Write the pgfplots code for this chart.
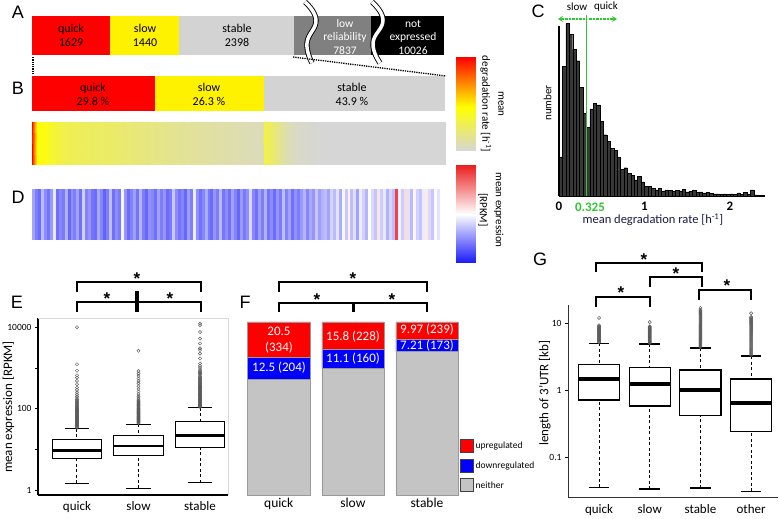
\documentclass[border=0pt]{standalone}
\usepackage{pgfplots}
\pgfplotsset{compat=1.18}
\usepgfplotslibrary{statistics}
\usetikzlibrary{arrows.meta}
\usepackage{fontspec}
\setmainfont{Carlito}
\newfontfamily\letterfont{Liberation Sans}
\definecolor{lgray}{RGB}{211,211,211}
\definecolor{dgray}{RGB}{128,128,128}
\definecolor{fgray}{RGB}{196,196,196}
\definecolor{cgreen}{RGB}{45,200,45}
\definecolor{navy}{RGB}{25,25,70}
\newcommand{\fs}[1]{\fontsize{#1}{#1}\selectfont}
\newcommand{\st}{\letterfont\bfseries\fontsize{17}{17}\selectfont}
\pgfplotsset{
  colormap={degr}{rgb255(0cm)=(214,214,214); rgb255(47cm)=(255,255,0); rgb255(69cm)=(255,150,0); rgb255(100cm)=(255,0,0)},
  colormap={expr}{rgb255(0cm)=(25,25,250); rgb255(1cm)=(255,255,255); rgb255(2cm)=(235,30,30)},
  heat/.style={anchor=south west, scale only axis, hide axis, view={0}{90}, clip=false, zmin=-1, zmax=1},
  sqlegend/.style={legend image code/.code={\draw[##1, draw=black!75, line width=0.6pt] (0pt,-6pt) rectangle (13pt,7pt);}},
  mybox/.style={
    boxplot/draw direction=y,
    boxplot/box extend=0.81,
    boxplot/every box/.style={draw=black, line width=1.1pt, fill=white},
    boxplot/every median/.style={draw=black, line width=2.8pt},
    boxplot/draw/lower whisker/.code={
      \draw[line width=1pt, dash pattern=on 3pt off 2.5pt]
        (boxplot box cs:\pgfplotsboxplotvalue{lower whisker},0.5) --
        (boxplot box cs:\pgfplotsboxplotvalue{lower quartile},0.5);
      \draw[line width=1.1pt]
        (boxplot box cs:\pgfplotsboxplotvalue{lower whisker},0.25) --
        (boxplot box cs:\pgfplotsboxplotvalue{lower whisker},0.75);},
    boxplot/draw/upper whisker/.code={
      \draw[line width=1pt, dash pattern=on 3pt off 2.5pt]
        (boxplot box cs:\pgfplotsboxplotvalue{upper whisker},0.5) --
        (boxplot box cs:\pgfplotsboxplotvalue{upper quartile},0.5);
      \draw[line width=1.1pt]
        (boxplot box cs:\pgfplotsboxplotvalue{upper whisker},0.25) --
        (boxplot box cs:\pgfplotsboxplotvalue{upper whisker},0.75);},
  },
  outl/.style={black, solid, mark=o, mark size=1.6pt, mark options={draw=black!65, line width=0.45pt}},
}
\begin{document}
\begin{tikzpicture}
\useasboundingbox (0,0) rectangle (779pt,519pt);

% ---------------- A
\begin{axis}[at={(32pt,464pt)}, anchor=south west, scale only axis, width=412pt, height=39pt,
  hide axis, xbar stacked, bar width=1, xmin=0, xmax=8599, ymin=0.5, ymax=1.5]
\addplot[fill=red, draw=none] coordinates {(1629,1)};
\addplot[fill=yellow, draw=none] coordinates {(1440,1)};
\addplot[fill=lgray, draw=none] coordinates {(2398,1)};
\addplot[fill=dgray, draw=none] coordinates {(1608,1)};
\addplot[fill=black, draw=none] coordinates {(1524,1)};
\end{axis}

% ---------------- B
\begin{axis}[at={(32pt,408pt)}, anchor=south west, scale only axis, width=413pt, height=35pt,
  hide axis, xbar stacked, bar width=1, xmin=0, xmax=100, ymin=0.5, ymax=1.5]
\addplot[fill=red, draw=none] coordinates {(29.8,1)};
\addplot[fill=yellow, draw=none] coordinates {(26.3,1)};
\addplot[fill=lgray, draw=none] coordinates {(43.9,1)};
\end{axis}

% ---------------- degradation heatmap
\begin{axis}[heat, at={(32pt,354pt)}, width=413pt, height=43pt, xmin=0, xmax=413, ymin=0, ymax=1,
  colormap name=degr, point meta min=0, point meta max=1]
\addplot3[surf, shader=interp, mesh/rows=2, point meta=explicit] table[row sep=\\, meta=c] {
x y z c\\
0 0 0 1.0\\ 1.5 0 0 0.85\\ 3 0 0 0.65\\ 5 0 0 0.47\\ 8 0 0 0.44\\ 14 0 0 0.42\\ 22 0 0 0.35\\ 35 0 0 0.29\\
55 0 0 0.26\\ 80 0 0 0.24\\ 100 0 0 0.21\\ 120 0 0 0.18\\ 150 0 0 0.14\\ 180 0 0 0.11\\ 210 0 0 0.08\\
231 0 0 0.06\\ 232 0 0 0.32\\ 240 0 0 0.24\\ 250 0 0 0.12\\ 262 0 0 0.04\\ 280 0 0 0.01\\ 300 0 0 0\\ 413 0 0 0\\
0 1 0 1.0\\ 1.5 1 0 0.85\\ 3 1 0 0.65\\ 5 1 0 0.47\\ 8 1 0 0.44\\ 14 1 0 0.42\\ 22 1 0 0.35\\ 35 1 0 0.29\\
55 1 0 0.26\\ 80 1 0 0.24\\ 100 1 0 0.21\\ 120 1 0 0.18\\ 150 1 0 0.14\\ 180 1 0 0.11\\ 210 1 0 0.08\\
231 1 0 0.06\\ 232 1 0 0.32\\ 240 1 0 0.24\\ 250 1 0 0.12\\ 262 1 0 0.04\\ 280 1 0 0.01\\ 300 1 0 0\\ 413 1 0 0\\
};
\end{axis}

% ---------------- D expression heatmap
\begin{axis}[heat, at={(32pt,280pt)}, width=411pt, height=50pt, xmin=0, xmax=138, ymin=0, ymax=1,
  colormap name=expr, point meta min=0, point meta max=1]
\addplot3[surf, shader=flat corner, mesh/rows=2, point meta=explicit] table[row sep=\\, meta=c] {
x y z c\\
0 0 0 .30\\ 1 0 0 .22\\ 2 0 0 .18\\ 3 0 0 .35\\ 4 0 0 .25\\ 5 0 0 .20\\ 6 0 0 .28\\ 7 0 0 .45\\ 8 0 0 .19\\ 9 0 0 .24\\
10 0 0 .21\\ 11 0 0 .33\\ 12 0 0 .17\\ 13 0 0 .26\\ 14 0 0 .22\\ 15 0 0 .30\\ 16 0 0 .19\\ 17 0 0 .40\\ 18 0 0 .23\\ 19 0 0 .27\\
20 0 0 .20\\ 21 0 0 .18\\ 22 0 0 .31\\ 23 0 0 .24\\ 24 0 0 .16\\ 25 0 0 .22\\ 26 0 0 .36\\ 27 0 0 .19\\ 28 0 0 .25\\ 29 0 0 .21\\
30 0 0 .48\\ 31 0 0 .27\\ 32 0 0 .18\\ 33 0 0 .23\\ 34 0 0 .29\\ 35 0 0 .20\\ 36 0 0 .34\\ 37 0 0 .22\\ 38 0 0 .17\\ 39 0 0 .26\\
40 0 0 .24\\ 41 0 0 .19\\ 42 0 0 .30\\ 43 0 0 .22\\ 44 0 0 .27\\ 45 0 0 .18\\ 46 0 0 .21\\ 47 0 0 .38\\ 48 0 0 .25\\ 49 0 0 .20\\
50 0 0 .23\\ 51 0 0 .17\\ 52 0 0 .29\\ 53 0 0 .22\\ 54 0 0 .46\\ 55 0 0 .26\\ 56 0 0 .19\\ 57 0 0 .24\\ 58 0 0 .32\\ 59 0 0 .21\\
60 0 0 .18\\ 61 0 0 .27\\ 62 0 0 .22\\ 63 0 0 .35\\ 64 0 0 .20\\ 65 0 0 .25\\ 66 0 0 .19\\ 67 0 0 .30\\ 68 0 0 .23\\ 69 0 0 .17\\
70 0 0 .28\\ 71 0 0 .21\\ 72 0 0 .26\\ 73 0 0 .42\\ 74 0 0 .24\\ 75 0 0 .19\\ 76 0 0 .29\\ 77 0 0 .22\\ 78 0 0 .33\\ 79 0 0 .20\\
80 0 0 .25\\ 81 0 0 .18\\ 82 0 0 .27\\ 83 0 0 .21\\ 84 0 0 .36\\ 85 0 0 .23\\ 86 0 0 .30\\ 87 0 0 .19\\ 88 0 0 .26\\ 89 0 0 .22\\
90 0 0 .28\\ 91 0 0 .34\\ 92 0 0 .24\\ 93 0 0 .31\\ 94 0 0 .27\\ 95 0 0 .38\\ 96 0 0 .29\\ 97 0 0 .33\\ 98 0 0 .36\\ 99 0 0 .30\\
100 0 0 .41\\ 101 0 0 .35\\ 102 0 0 .44\\ 103 0 0 .32\\ 104 0 0 .48\\ 105 0 0 .38\\ 106 0 0 .53\\ 107 0 0 .36\\ 108 0 0 .43\\ 109 0 0 .30\\
110 0 0 .46\\ 111 0 0 .40\\ 112 0 0 .34\\ 113 0 0 .50\\ 114 0 0 .42\\ 115 0 0 .37\\ 116 0 0 .56\\ 117 0 0 .39\\ 118 0 0 .45\\ 119 0 0 .33\\
120 0 0 .41\\ 121 0 0 .36\\ 122 0 0 .92\\ 123 0 0 .47\\ 124 0 0 .39\\ 125 0 0 .58\\ 126 0 0 .44\\ 127 0 0 .35\\ 128 0 0 .52\\ 129 0 0 .40\\
130 0 0 .37\\ 131 0 0 .46\\ 132 0 0 .55\\ 133 0 0 .42\\ 134 0 0 .38\\ 135 0 0 .49\\ 136 0 0 .44\\ 137 0 0 .50\\ 138 0 0 .50\\
0 1 0 .30\\ 1 1 0 .22\\ 2 1 0 .18\\ 3 1 0 .35\\ 4 1 0 .25\\ 5 1 0 .20\\ 6 1 0 .28\\ 7 1 0 .45\\ 8 1 0 .19\\ 9 1 0 .24\\
10 1 0 .21\\ 11 1 0 .33\\ 12 1 0 .17\\ 13 1 0 .26\\ 14 1 0 .22\\ 15 1 0 .30\\ 16 1 0 .19\\ 17 1 0 .40\\ 18 1 0 .23\\ 19 1 0 .27\\
20 1 0 .20\\ 21 1 0 .18\\ 22 1 0 .31\\ 23 1 0 .24\\ 24 1 0 .16\\ 25 1 0 .22\\ 26 1 0 .36\\ 27 1 0 .19\\ 28 1 0 .25\\ 29 1 0 .21\\
30 1 0 .48\\ 31 1 0 .27\\ 32 1 0 .18\\ 33 1 0 .23\\ 34 1 0 .29\\ 35 1 0 .20\\ 36 1 0 .34\\ 37 1 0 .22\\ 38 1 0 .17\\ 39 1 0 .26\\
40 1 0 .24\\ 41 1 0 .19\\ 42 1 0 .30\\ 43 1 0 .22\\ 44 1 0 .27\\ 45 1 0 .18\\ 46 1 0 .21\\ 47 1 0 .38\\ 48 1 0 .25\\ 49 1 0 .20\\
50 1 0 .23\\ 51 1 0 .17\\ 52 1 0 .29\\ 53 1 0 .22\\ 54 1 0 .46\\ 55 1 0 .26\\ 56 1 0 .19\\ 57 1 0 .24\\ 58 1 0 .32\\ 59 1 0 .21\\
60 1 0 .18\\ 61 1 0 .27\\ 62 1 0 .22\\ 63 1 0 .35\\ 64 1 0 .20\\ 65 1 0 .25\\ 66 1 0 .19\\ 67 1 0 .30\\ 68 1 0 .23\\ 69 1 0 .17\\
70 1 0 .28\\ 71 1 0 .21\\ 72 1 0 .26\\ 73 1 0 .42\\ 74 1 0 .24\\ 75 1 0 .19\\ 76 1 0 .29\\ 77 1 0 .22\\ 78 1 0 .33\\ 79 1 0 .20\\
80 1 0 .25\\ 81 1 0 .18\\ 82 1 0 .27\\ 83 1 0 .21\\ 84 1 0 .36\\ 85 1 0 .23\\ 86 1 0 .30\\ 87 1 0 .19\\ 88 1 0 .26\\ 89 1 0 .22\\
90 1 0 .28\\ 91 1 0 .34\\ 92 1 0 .24\\ 93 1 0 .31\\ 94 1 0 .27\\ 95 1 0 .38\\ 96 1 0 .29\\ 97 1 0 .33\\ 98 1 0 .36\\ 99 1 0 .30\\
100 1 0 .41\\ 101 1 0 .35\\ 102 1 0 .44\\ 103 1 0 .32\\ 104 1 0 .48\\ 105 1 0 .38\\ 106 1 0 .53\\ 107 1 0 .36\\ 108 1 0 .43\\ 109 1 0 .30\\
110 1 0 .46\\ 111 1 0 .40\\ 112 1 0 .34\\ 113 1 0 .50\\ 114 1 0 .42\\ 115 1 0 .37\\ 116 1 0 .56\\ 117 1 0 .39\\ 118 1 0 .45\\ 119 1 0 .33\\
120 1 0 .41\\ 121 1 0 .36\\ 122 1 0 .92\\ 123 1 0 .47\\ 124 1 0 .39\\ 125 1 0 .58\\ 126 1 0 .44\\ 127 1 0 .35\\ 128 1 0 .52\\ 129 1 0 .40\\
130 1 0 .37\\ 131 1 0 .46\\ 132 1 0 .55\\ 133 1 0 .42\\ 134 1 0 .38\\ 135 1 0 .49\\ 136 1 0 .44\\ 137 1 0 .50\\ 138 1 0 .50\\
};
\end{axis}

% ---------------- colour bars
\begin{axis}[heat, at={(456pt,368pt)}, width=19pt, height=94pt, xmin=0, xmax=1, ymin=0, ymax=1,
  colormap name=degr, point meta min=0, point meta max=1]
\addplot3[surf, shader=interp, mesh/rows=4, point meta=explicit] table[row sep=\\, meta=c] {
x y z c\\ 0 0 0 0\\ 1 0 0 0\\ 0 0.47 0 0.47\\ 1 0.47 0 0.47\\ 0 0.69 0 0.69\\ 1 0.69 0 0.69\\ 0 1 0 1\\ 1 1 0 1\\
};
\end{axis}
\begin{axis}[heat, at={(456pt,256pt)}, width=19pt, height=98pt, xmin=0, xmax=1, ymin=0, ymax=1,
  colormap name=expr, point meta min=0, point meta max=1]
\addplot3[surf, shader=interp, mesh/rows=3, point meta=explicit] table[row sep=\\, meta=c] {
x y z c\\ 0 0 0 0\\ 1 0 0 0\\ 0 0.5 0 0.5\\ 1 0.5 0 0.5\\ 0 1 0 1\\ 1 1 0 1\\
};
\end{axis}

% ---------------- C histogram
\begin{axis}[at={(559pt,323pt)}, anchor=south west, scale only axis, width=206pt, height=170pt,
  xmin=0, xmax=2.41, ymin=0, ymax=505,
  axis x line=bottom, axis y line=left, axis line style={line width=1.8pt, -},
  xtick={0,1,2}, xticklabels={0,1,2}, ytick=\empty, x tick style={draw=none},
  xticklabel style={font=\fs{13}\bfseries},
  xlabel={mean degradation rate [h\textsuperscript{-1}]},
  xlabel style={font=\fs{12.5}, text=navy, at={(axis description cs:0.456,-0.141)}, anchor=center},
  ylabel={number}, ylabel style={font=\fs{11}, at={(axis description cs:-0.055,0.547)}, anchor=center},
  clip=false]
\addplot[ybar interval, fill=black!78, draw=black, line width=0.3pt] table[row sep=\\] {
x y\\
0.00 116\\ 0.04 386\\ 0.08 512\\ 0.12 480\\ 0.16 435\\ 0.20 402\\ 0.24 322\\ 0.28 246\\ 0.32 204\\ 0.36 259\\
0.40 276\\ 0.44 271\\ 0.48 222\\ 0.52 182\\ 0.56 162\\ 0.60 142\\ 0.64 136\\ 0.68 115\\ 0.72 80\\ 0.76 84\\
0.80 68\\ 0.84 62\\ 0.88 48\\ 0.92 58\\ 0.96 42\\ 1.00 28\\ 1.04 28\\ 1.08 23\\ 1.12 18\\ 1.16 22\\
1.20 15\\ 1.24 18\\ 1.28 16\\ 1.32 14\\ 1.36 17\\ 1.40 15\\ 1.44 19\\ 1.48 12\\ 1.52 14\\ 1.56 16\\
1.60 10\\ 1.64 12\\ 1.68 9\\ 1.72 10\\ 1.76 8\\ 1.80 6\\ 1.84 6\\ 1.88 5\\ 1.92 6\\ 1.96 5\\
2.00 6\\ 2.04 5\\ 2.08 9\\ 2.12 4\\ 2.16 10\\ 2.20 4\\ 2.24 18\\ 2.28 3\\ 2.32 2\\ 2.36 2\\ 2.40 2\\
};
\draw[cgreen, line width=1.2pt] (axis cs:0.325,0) -- (axis cs:0.325,537);
\end{axis}

% ---------------- E boxplots (values are log10 of RPKM)
\begin{axis}[at={(38pt,24pt)}, anchor=south west, scale only axis, width=190pt, height=177pt,
  ymin=-0.123, ymax=4.226, xmin=0.366, xmax=3.455,
  axis lines*=left, axis line style={line width=1.1pt},
  xtick={1,2,3}, xticklabels={quick,slow,stable}, x tick style={draw=none},
  xticklabel style={font=\fs{13}},
  ytick={0,1,2,3,4}, yticklabels={1,,100,,10000},
  yticklabel style={font=\fs{9.5}},
  y tick style={line width=0.7pt, black}, tick align=outside, major tick length=3pt,
  ylabel={mean expression [RPKM]}, ylabel style={font=\fs{13}, at={(axis description cs:-0.155,0.497)}, anchor=center},
  clip=false]
\draw[black!15] (rel axis cs:0,1) -- (rel axis cs:1,1) -- (rel axis cs:1,0);
\addplot[mybox, outl, boxplot prepared={draw position=1, lower whisker=0.16, lower quartile=0.78, median=0.98, upper quartile=1.23, upper whisker=1.51}]
 table[row sep=\\, y index=0] {v\\ 1.53\\ 1.545\\ 1.56\\ 1.575\\ 1.59\\ 1.605\\ 1.62\\ 1.635\\ 1.65\\ 1.665\\ 1.68\\ 1.695\\ 1.71\\ 1.725\\ 1.74\\ 1.755\\ 1.77\\ 1.785\\ 1.80\\ 1.815\\ 1.83\\ 1.845\\ 1.86\\ 1.875\\ 1.89\\ 1.905\\ 1.92\\ 1.935\\ 1.95\\ 1.965\\ 1.98\\ 1.995\\ 2.01\\ 2.03\\ 2.05\\ 2.07\\ 2.09\\ 2.11\\ 2.13\\ 2.15\\ 2.17\\ 2.19\\ 2.22\\ 2.26\\ 2.30\\ 2.35\\ 2.40\\ 2.46\\ 2.52\\ 2.60\\ 2.68\\ 2.76\\ 2.82\\ 2.93\\ 3.09\\ 4.00\\};
\addplot[mybox, outl, boxplot prepared={draw position=2, lower whisker=0.04, lower quartile=0.84, median=1.08, upper quartile=1.33, upper whisker=1.62}]
 table[row sep=\\, y index=0] {v\\ 1.64\\ 1.655\\ 1.67\\ 1.685\\ 1.70\\ 1.715\\ 1.73\\ 1.745\\ 1.76\\ 1.775\\ 1.79\\ 1.805\\ 1.82\\ 1.835\\ 1.85\\ 1.865\\ 1.88\\ 1.895\\ 1.91\\ 1.925\\ 1.94\\ 1.955\\ 1.97\\ 1.985\\ 2.00\\ 2.02\\ 2.04\\ 2.06\\ 2.08\\ 2.10\\ 2.12\\ 2.14\\ 2.16\\ 2.18\\ 2.20\\ 2.23\\ 2.26\\ 2.30\\ 2.36\\ 2.42\\ 2.48\\ 2.55\\ 2.62\\ 2.68\\ 2.74\\ 2.80\\ 2.86\\ 2.92\\ 3.42\\};
\addplot[mybox, outl, boxplot prepared={draw position=3, lower whisker=0.18, lower quartile=1.04, median=1.33, upper quartile=1.69, upper whisker=2.02}]
 table[row sep=\\, y index=0] {v\\ 2.04\\ 2.055\\ 2.07\\ 2.085\\ 2.10\\ 2.115\\ 2.13\\ 2.145\\ 2.16\\ 2.175\\ 2.19\\ 2.205\\ 2.22\\ 2.235\\ 2.25\\ 2.265\\ 2.28\\ 2.295\\ 2.31\\ 2.325\\ 2.34\\ 2.355\\ 2.37\\ 2.385\\ 2.40\\ 2.415\\ 2.43\\ 2.445\\ 2.46\\ 2.475\\ 2.49\\ 2.505\\ 2.52\\ 2.535\\ 2.55\\ 2.565\\ 2.58\\ 2.60\\ 2.62\\ 2.64\\ 2.66\\ 2.68\\ 2.70\\ 2.72\\ 2.74\\ 2.76\\ 2.78\\ 2.80\\ 2.83\\ 2.86\\ 2.89\\ 2.92\\ 2.95\\ 3.00\\ 3.05\\ 3.11\\ 3.23\\ 3.35\\ 3.44\\ 3.48\\ 3.60\\ 3.72\\ 3.88\\ 4.05\\ 4.09\\};
\end{axis}

% ---------------- F stacked bars
\begin{axis}[at={(238pt,24pt)}, anchor=south west, scale only axis, width=226pt, height=173pt,
  ybar stacked, bar width=0.837, ymin=0, ymax=100, xmin=0.45, xmax=3.5,
  axis x line*=bottom, axis y line=none, x axis line style={draw=none},
  xtick={1,2,3}, xticklabels={quick,slow,stable}, x tick style={draw=none},
  xticklabel style={font=\fs{13.5}},
  legend style={at={(0.982,0.324)}, anchor=north west, draw=none, fill=none, font=\fs{9.5}, row sep=6pt, inner sep=0pt},
  legend cell align=left, reverse legend, clip=false]
\addplot[fill=fgray, draw=black!40, line width=0.5pt, sqlegend] coordinates {(1,67.0) (2,73.1) (3,82.82)};
\addlegendentry{neither}
\addplot[fill=blue, draw=black!40, line width=0.5pt, sqlegend] coordinates {(1,12.5) (2,11.1) (3,7.21)};
\addlegendentry{downregulated}
\addplot[fill=red, draw=black!40, line width=0.5pt, sqlegend] coordinates {(1,20.5) (2,15.8) (3,9.97)};
\addlegendentry{upregulated}
\end{axis}

% ---------------- G boxplots (values are log10 of kb)
\begin{axis}[at={(568pt,21pt)}, anchor=south west, scale only axis, width=210pt, height=193pt,
  ymin=-1.612, ymax=1.269, xmin=0.388, xmax=4.53,
  axis lines*=left, axis line style={line width=1pt, black!80},
  xtick={1,2,3,4}, xticklabels={quick,slow,stable,other}, x tick style={draw=none},
  xticklabel style={font=\fs{13}},
  ytick={-1,0,1}, yticklabels={0.1,1,10},
  yticklabel style={font=\fs{9.5}},
  y tick style={line width=0.7pt, black}, tick align=outside, major tick length=3pt,
  ylabel={length of 3'UTR [kb]}, ylabel style={font=\fs{13}, at={(axis description cs:-0.11,0.544)}, anchor=center},
  clip=false]
\addplot[mybox, outl, boxplot/every median/.style={draw=black, line width=3.8pt}, boxplot prepared={draw position=1, lower whisker=-1.449, lower quartile=-0.149, median=0.164, upper quartile=0.387, upper whisker=0.699}]
 table[row sep=\\, y index=0] {v\\ 0.71\\ 0.72\\ 0.73\\ 0.74\\ 0.75\\ 0.76\\ 0.77\\ 0.78\\ 0.79\\ 0.80\\ 0.81\\ 0.82\\ 0.83\\ 0.84\\ 0.85\\ 0.86\\ 0.87\\ 0.88\\ 0.89\\ 0.90\\ 0.91\\ 0.92\\ 0.93\\ 0.94\\ 0.95\\ 0.965\\ 1.076\\};
\addplot[mybox, outl, boxplot/every median/.style={draw=black, line width=3.8pt}, boxplot prepared={draw position=2, lower whisker=-1.478, lower quartile=-0.239, median=0.090, upper quartile=0.342, upper whisker=0.687}]
 table[row sep=\\, y index=0] {v\\ 0.70\\ 0.71\\ 0.72\\ 0.73\\ 0.74\\ 0.75\\ 0.76\\ 0.77\\ 0.78\\ 0.79\\ 0.80\\ 0.81\\ 0.82\\ 0.83\\ 0.84\\ 0.85\\ 0.86\\ 0.87\\ 0.88\\ 0.89\\ 0.90\\ 0.91\\ 0.92\\ 0.93\\ 0.94\\ 0.95\\ 1.013\\};
\addplot[mybox, outl, boxplot/every median/.style={draw=black, line width=3.8pt}, boxplot prepared={draw position=3, lower whisker=-1.463, lower quartile=-0.387, median=0.0, upper quartile=0.299, upper whisker=0.627}]
 table[row sep=\\, y index=0] {v\\ 0.64\\ 0.655\\ 0.67\\ 0.685\\ 0.70\\ 0.715\\ 0.73\\ 0.745\\ 0.76\\ 0.775\\ 0.79\\ 0.805\\ 0.82\\ 0.835\\ 0.85\\ 0.865\\ 0.88\\ 0.895\\ 0.91\\ 0.925\\ 0.94\\ 0.955\\ 0.97\\ 0.985\\ 1.00\\ 1.015\\ 1.03\\ 1.045\\ 1.06\\ 1.075\\ 1.09\\ 1.105\\ 1.12\\ 1.135\\ 1.15\\ 1.165\\ 1.18\\ 1.195\\ 1.223\\};
\addplot[mybox, outl, boxplot/every median/.style={draw=black, line width=3.8pt}, boxplot prepared={draw position=4, lower whisker=-1.509, lower quartile=-0.613, median=-0.194, upper quartile=0.164, upper whisker=0.507}]
 table[row sep=\\, y index=0] {v\\ 0.52\\ 0.535\\ 0.55\\ 0.565\\ 0.58\\ 0.595\\ 0.61\\ 0.625\\ 0.64\\ 0.655\\ 0.67\\ 0.685\\ 0.70\\ 0.715\\ 0.73\\ 0.745\\ 0.76\\ 0.775\\ 0.79\\ 0.805\\ 0.82\\ 0.835\\ 0.85\\ 0.865\\ 0.88\\ 0.895\\ 0.91\\ 0.925\\ 0.94\\ 0.955\\ 0.97\\ 0.985\\ 1.00\\ 1.015\\ 1.03\\ 1.045\\ 1.06\\ 1.075\\ 1.09\\ 1.146\\};
\end{axis}

% ---------------- annotations (pixel coordinates, y downwards)
\begin{scope}[x=1pt, y=-1pt, shift={(0pt,519pt)}]
\foreach \L/\X/\Y in {A/18/12, B/18/88, D/18/197, C/538/11, E/17/302, F/245/302, G/540/259}
  \node[font=\letterfont\fs{18}] at (\X,\Y) {\L};
\node[align=center, font=\fontsize{12}{14}\selectfont] at (71,35) {quick\\1629};
\node[align=center, font=\fontsize{12}{14}\selectfont] at (145,35) {slow\\1440};
\node[align=center, font=\fontsize{12}{14}\selectfont] at (237,35) {stable\\2398};
\node[align=center, text=white, font=\fontsize{11.5}{13.5}\selectfont] at (345,37) {low\\reliability\\7837};
\node[align=center, text=white, font=\fontsize{11.5}{13.5}\selectfont] at (413,37) {not\\expressed\\10026};
\draw[double=white, double distance=3.5pt, line width=0.9pt] plot[smooth, tension=0.8] coordinates {(305,2) (316,20) (307,43) (312,63)};
\draw[double=white, double distance=3.5pt, line width=0.9pt] plot[smooth, tension=0.8] coordinates {(372,2) (383,20) (373,43) (380,63)};
\draw[densely dotted, line width=1.3pt] (33,57) -- (33,74);
\draw[densely dotted, line width=1.3pt] (293,57) -- (446,76);
\node[align=center, font=\fontsize{12}{14}\selectfont] at (93,94) {quick\\29.8 \%};
\node[align=center, font=\fontsize{12}{14}\selectfont] at (209,94) {slow\\26.3 \%};
\node[align=center, font=\fontsize{12}{14}\selectfont] at (352,94) {stable\\43.9 \%};
\node[rotate=-90, align=center, font=\fontsize{11}{16}\selectfont] at (492,104) {mean\\degradation rate [h\textsuperscript{-1}]};
\node[rotate=-90, align=center, font=\fontsize{11}{16}\selectfont] at (491,210) {mean expression\\{}[RPKM]};
\node[font=\fs{11}] at (577,7) {slow};
\node[font=\fs{11}] at (606,7) {quick};
\draw[cgreen, line width=1.4pt, dash pattern=on 2.5pt off 1pt, -{Stealth[length=5pt,width=6pt]}] (585,19) -- (558,19);
\draw[cgreen, line width=1.4pt, dash pattern=on 2.5pt off 1pt, -{Stealth[length=5pt,width=6pt]}] (589,19) -- (617,19);
\node[font=\fs{13}\bfseries, text=cgreen] at (590,207) {0.325};
\draw[line width=1.2pt] (77,292) -- (77,282) -- (201,282) -- (201,292);
\draw[line width=1.2pt] (77,312) -- (77,302) -- (201,302) -- (201,312);
\draw[line width=3.5pt] (137,291) -- (137,312);
\node[font=\st] at (137,279) {*};
\node[font=\st] at (107,299) {*};
\node[font=\st] at (170,299) {*};
\draw[line width=1.2pt] (279,292) -- (279,282) -- (427,282) -- (427,292);
\draw[line width=1.2pt] (279,312) -- (279,303) -- (427,303) -- (427,312);
\draw[line width=2.5pt] (353.5,303) -- (353.5,312);
\node[font=\st] at (353,279) {*};
\node[font=\st] at (317,300) {*};
\node[font=\st] at (392,300) {*};
\node[align=center, text=white, font=\fontsize{13}{16}\selectfont] at (279,340) {20.5\\(334)};
\node[text=white, font=\fs{13}] at (279,368) {12.5 (204)};
\node[text=white, font=\fs{13}] at (353,337) {15.8 (228)};
\node[text=white, font=\fs{13}] at (353,359) {11.1 (160)};
\node[text=white, font=\fs{13}] at (427,330) {9.97 (239)};
\node[text=white, font=\fs{13}] at (427,346) {7.21 (173)};
\draw[line width=1.1pt] (596,272) -- (596,263) -- (702,263) -- (702,272);
\draw[line width=1.1pt] (650,287) -- (650,277) -- (702,277) -- (702,287);
\draw[line width=1.3pt] (596,307) -- (596,297) -- (650,297) -- (650,307);
\draw[line width=1.3pt] (699,300) -- (699,290) -- (751,290) -- (751,300);
\node[font=\st] at (644,260) {*};
\node[font=\st] at (676,274) {*};
\node[font=\st] at (621,293) {*};
\node[font=\st] at (727,286) {*};
\end{scope}
\end{tikzpicture}
\end{document}
